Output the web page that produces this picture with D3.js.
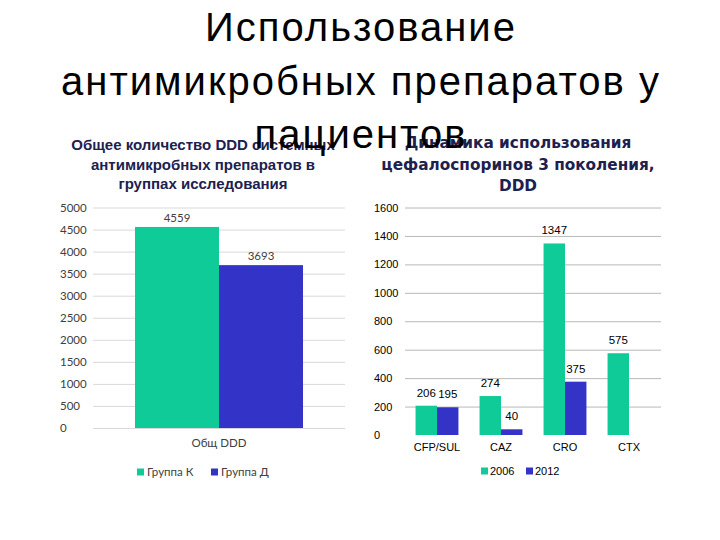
<!DOCTYPE html>
<html>
<head>
<meta charset="utf-8">
<script src="https://cdn.jsdelivr.net/npm/d3@7"></script>
<style>
  body { margin: 0; background: #fff; }
  svg { display: block; }
</style>
</head>
<body>
<svg id="slide" width="720" height="540"></svg>
<script>
// titles
const titleLines = ['Использование', 'антимикробных препаратов у', 'пациентов'];
const leftTitle = ['Общее количество DDD системных', 'антимикробных препаратов в', 'группах исследования'];
const rightTitle = ['Динамика использования', 'цефалоспоринов 3 поколения,', 'DDD'];

// left chart data
const groupCats = ['Общ DDD'];
const groupKeys = ['Группа К', 'Группа Д'];
const groupK = [4559];
const groupD = [3693];
const leftTicks = [0, 500, 1000, 1500, 2000, 2500, 3000, 3500, 4000, 4500, 5000];

// right chart data
const drugCats = ['CFP/SUL', 'CAZ', 'CRO', 'CTX'];
const yearKeys = ['2006', '2012'];
const y2006 = [206, 274, 1347, 575];
const y2012 = [195, 40, 375, null];
const rightTicks = [0, 200, 400, 600, 800, 1000, 1200, 1400, 1600];

const green = '#0fcb97';
const blue = '#3333c8';
const colors = [green, blue];

const svg = d3.select('#slide');

// ---------- left chart ----------
function plot_left() {
    const g = svg.append('g');
    const x0 = 93, x1 = 345, yTop = 207.5, yBot = 428;
    const y = d3.scaleLinear().domain([0, 5000]).range([yBot, yTop]);
    const x = d3.scaleBand().domain(groupCats).range([x0, x1])
        .paddingInner(0).paddingOuter(0.25);
    const xs = d3.scaleBand().domain(groupKeys).range([0, x.bandwidth()]);

    const ax = g.append('g')
        .attr('transform', `translate(${x0},0)`)
        .call(d3.axisLeft(y).tickValues(leftTicks).tickSize(-(x1 - x0)).tickFormat(d3.format('d')));
    ax.select('.domain').remove();
    ax.selectAll('line').attr('stroke', '#d9d9d9');
    ax.selectAll('text')
        .attr('x', 60 - x0).attr('text-anchor', 'start')
        .attr('fill', '#404040')
        .style('font-family', 'Lato, "Open Sans", sans-serif').style('font-size', '11.5px');

    const rows = groupCats.map((c, i) => ({ cat: c, vals: [groupK[i], groupD[i]] }));
    rows.forEach(r => {
        r.vals.forEach((v, j) => {
            const bx = x(r.cat) + xs(groupKeys[j]);
            g.append('rect')
                .attr('x', bx).attr('y', y(v))
                .attr('width', xs.bandwidth()).attr('height', y(0) - y(v))
                .attr('fill', colors[j]);
            g.append('text')
                .attr('x', bx + xs.bandwidth() / 2).attr('y', y(v) - 5)
                .attr('text-anchor', 'middle').attr('fill', '#404040')
                .style('font-family', 'Lato, "Open Sans", sans-serif').style('font-size', '11.5px')
                .text(v);
        });
        g.append('text')
            .attr('x', x(r.cat) + x.bandwidth() / 2).attr('y', 447)
            .attr('text-anchor', 'middle').attr('fill', '#404040')
            .style('font-family', 'Lato, "Open Sans", sans-serif').style('font-size', '11.5px')
            .text(r.cat);
    });

    // legend
    const lx = [137, 211];
    groupKeys.forEach((k, j) => {
        g.append('rect').attr('x', lx[j]).attr('y', 468.5).attr('width', 7).attr('height', 7).attr('fill', colors[j]);
        g.append('text').attr('x', lx[j] + 10).attr('y', 476)
            .attr('fill', '#404040')
            .style('font-family', 'Lato, "Open Sans", sans-serif').style('font-size', '11.5px')
            .text(k);
    });
}

// ---------- right chart ----------
function plot_right() {
    const g = svg.append('g');
    const x0 = 405, x1 = 661, yTop = 207.5, yBot = 435;
    const y = d3.scaleLinear().domain([0, 1600]).range([yBot, yTop]);
    const x = d3.scaleBand().domain(drugCats).range([x0, x1])
        .paddingInner(0.33).paddingOuter(0.165);
    const xs = d3.scaleBand().domain(yearKeys).range([0, x.bandwidth()]);

    const ax = g.append('g')
        .attr('transform', `translate(${x0},0)`)
        .call(d3.axisLeft(y).tickValues(rightTicks).tickSize(-(x1 - x0)).tickFormat(d3.format('d')));
    ax.select('.domain').remove();
    ax.selectAll('.tick line').attr('stroke', d => d === 0 ? 'none' : '#b8b8b8');
    ax.selectAll('text')
        .attr('x', 374 - x0).attr('text-anchor', 'start')
        .attr('fill', '#000')
        .style('font-family', '"Liberation Sans", Arial, sans-serif').style('font-size', '11px');

    drugCats.forEach((c, i) => {
        [y2006[i], y2012[i]].forEach((v, j) => {
            if (v == null) return;
            const bx = x(c) + xs(yearKeys[j]);
            g.append('rect')
                .attr('x', bx).attr('y', y(v))
                .attr('width', xs.bandwidth()).attr('height', y(0) - y(v))
                .attr('fill', colors[j]);
            g.append('text')
                .attr('x', bx + xs.bandwidth() / 2).attr('y', y(v) - 9)
                .attr('text-anchor', 'middle').attr('fill', '#000')
                .style('font-family', '"Liberation Sans", Arial, sans-serif').style('font-size', '11.5px')
                .text(v);
        });
        g.append('text')
            .attr('x', x(c) + x.bandwidth() / 2).attr('y', 451)
            .attr('text-anchor', 'middle').attr('fill', '#000')
            .style('font-family', '"Liberation Sans", Arial, sans-serif').style('font-size', '11px')
            .text(c);
    });

    const lx = [481, 526];
    yearKeys.forEach((k, j) => {
        g.append('rect').attr('x', lx[j]).attr('y', 467.5).attr('width', 7).attr('height', 7).attr('fill', colors[j]);
        g.append('text').attr('x', lx[j] + 9).attr('y', 475)
            .attr('fill', '#000')
            .style('font-family', '"Liberation Sans", Arial, sans-serif').style('font-size', '11px')
            .text(k);
    });
}

// ---------- headings ----------
function plot_titles() {
    const subL = svg.append('g')
        .style('font-family', '"Liberation Sans", Arial, sans-serif')
        .style('font-weight', 'bold').style('font-size', '15px')
        .attr('fill', '#20204f').attr('text-anchor', 'middle');
    leftTitle.forEach((t, i) => subL.append('text').attr('x', 203).attr('y', 150 + i * 19.5).text(t));

    const subR = svg.append('g')
        .style('font-family', '"DejaVu Sans", Verdana, sans-serif')
        .style('font-weight', 'bold').style('font-size', '15.3px')
        .attr('fill', '#20204f').attr('text-anchor', 'middle');
    rightTitle.forEach((t, i) => subR.append('text').attr('x', 518).attr('y', 148 + i * 21.5).text(t));

    const tg = svg.append('g')
        .style('font-family', '"Liberation Sans", Arial, sans-serif')
        .style('font-size', '40px').style('letter-spacing', '2px')
        .attr('fill', '#000').attr('text-anchor', 'middle');
    titleLines.forEach((t, i) => tg.append('text').attr('x', 361).attr('y', 41 + i * 53.5).text(t));
}

plot_left();
plot_right();
plot_titles();
</script>
</body>
</html>
